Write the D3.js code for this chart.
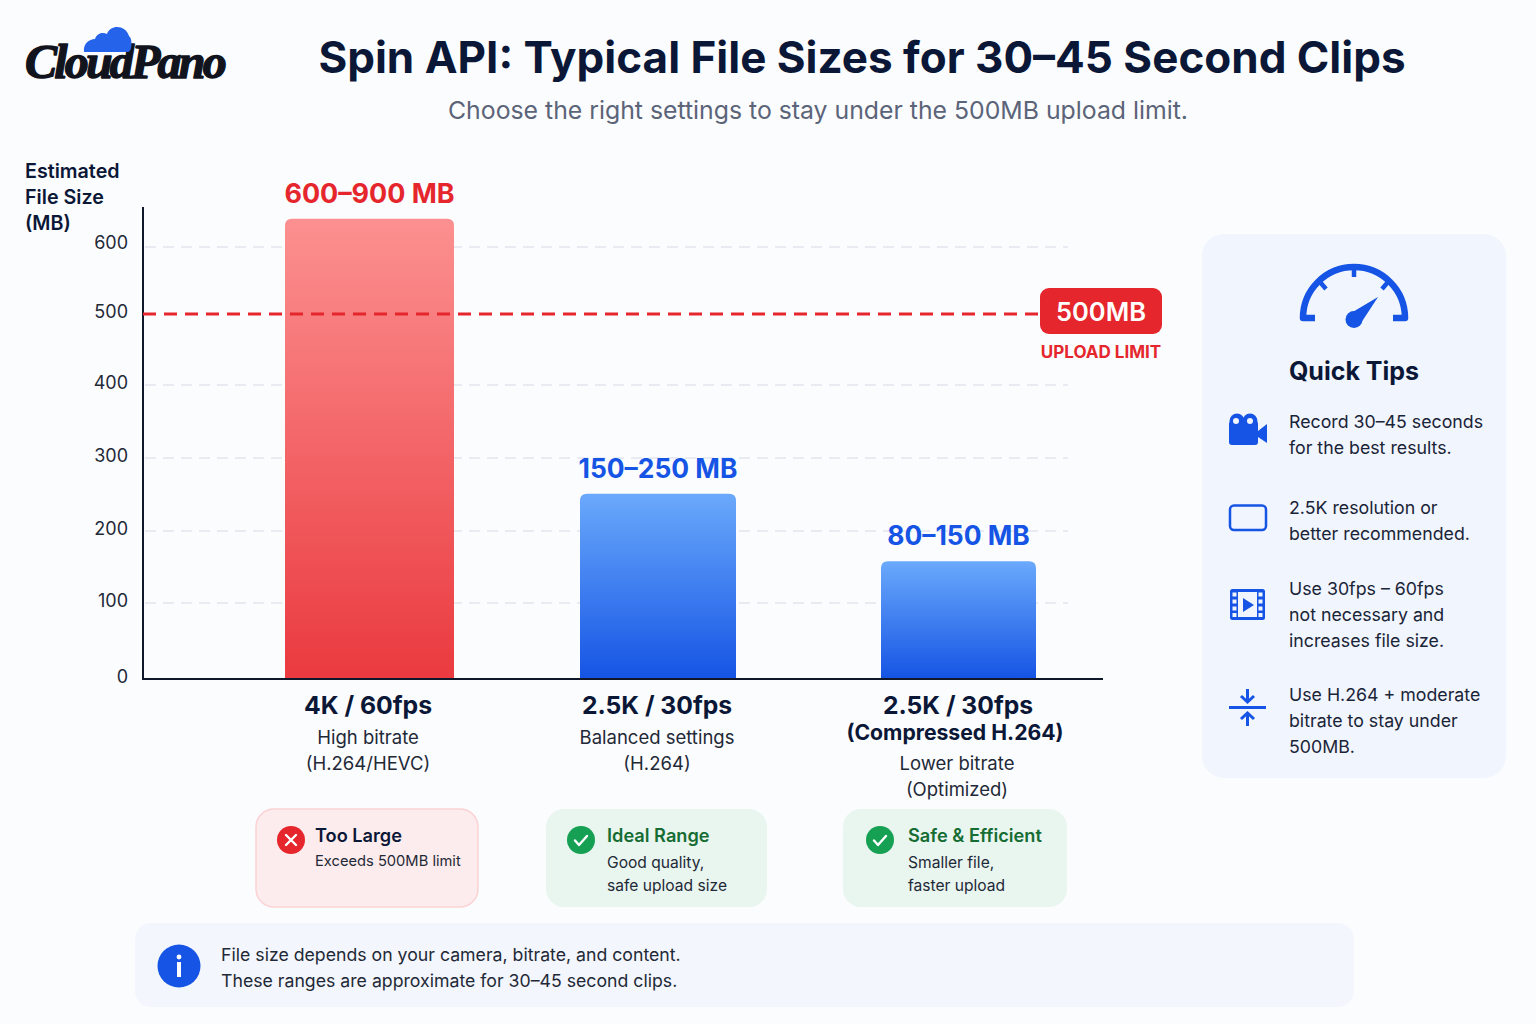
<!DOCTYPE html>
<html>
<head>
<meta charset="utf-8">
<script src="https://cdn.jsdelivr.net/npm/d3@7"></script>
<style>
  html, body { margin: 0; padding: 0; background: #fbfcfe; }
  svg { display: block; }
  text { font-family: Inter, "Noto Sans", sans-serif; }
</style>
</head>
<body>
<div id="chart"></div>
<script>
// data
const categories = ["4K / 60fps", "2.5K / 30fps", "2.5K / 30fps (Compressed)"];
const barValues = [642, 251, 158];
const rangeLabels = ["600–900 MB", "150–250 MB", "80–150 MB"];
const categoryLines = [["4K / 60fps"], ["2.5K / 30fps", "(Compressed H.264)"]];
const yTicks = [0, 100, 200, 300, 400, 500, 600];
const uploadLimit = 500;

const detailLines = [
    ["High bitrate", "(H.264/HEVC)"],
    ["Balanced settings", "(H.264)"],
    ["Lower bitrate", "(Optimized)"]
];
const statusTitles = ["Too Large", "Ideal Range", "Safe & Efficient"];
const statusLines = [
    ["Exceeds 500MB limit"],
    ["Good quality,", "safe upload size"],
    ["Smaller file,", "faster upload"]
];
const tipLines = [
    ["Record 30–45 seconds", "for the best results."],
    ["2.5K resolution or", "better recommended."],
    ["Use 30fps – 60fps", "not necessary and", "increases file size."],
    ["Use H.264 + moderate", "bitrate to stay under", "500MB."]
];
const noteLines = [
    "File size depends on your camera, bitrate, and content.",
    "These ranges are approximate for 30–45 second clips."
];

const RED = "#e5262c", BLUE = "#1554e4", INK = "#0f172a", NAVY = "#0b1736", GREEN = "#166d34";

const svg = d3.select("#chart").append("svg")
    .attr("width", 1536)
    .attr("height", 1024);

const defs = svg.append("defs");
function addGradient(id, top, bottom) {
    const g = defs.append("linearGradient").attr("id", id)
        .attr("x1", 0).attr("x2", 0).attr("y1", 0).attr("y2", 1);
    g.append("stop").attr("offset", "0%").attr("stop-color", top);
    g.append("stop").attr("offset", "100%").attr("stop-color", bottom);
}
addGradient("barRed", "#fc9090", "#ea3a3f");
addGradient("barBlue", "#6aa9fb", "#1554e4");

// multi-line text helper
function lines(parent, arr, x, y0, step, size, weight, fill, anchor) {
    parent.selectAll(null).data(arr).enter().append("text")
        .attr("x", x)
        .attr("y", (d, i) => y0 + i * step)
        .attr("font-size", size)
        .attr("font-weight", weight)
        .attr("fill", fill)
        .attr("text-anchor", anchor || "start")
        .text(d => d);
}

// logo
const logo = svg.append("g");
logo.append("text")
    .attr("x", 25).attr("y", 78)
    .attr("font-size", 48)
    .attr("font-weight", 700)
    .attr("font-style", "italic")
    .attr("letter-spacing", -2.8)
    .attr("stroke", "#11141d")
    .attr("stroke-width", 1.4)
    .attr("stroke-linejoin", "round")
    .attr("fill", "#11141d")
    .style("font-family", "'Liberation Serif', serif")
    .text("CloudPano");
logo.append("path")
    .attr("d", "M84 52 C83 44 89 39 95 39 C97 33 103 32 107 34 C110 25 125 24 129 36 C133 39 132 52 128 52 Z")
    .attr("fill", "#2563eb");

// title
svg.append("text").attr("x", 862).attr("y", 73)
    .attr("text-anchor", "middle").attr("font-size", 44).attr("font-weight", 700)
    .attr("fill", NAVY).text("Spin API: Typical File Sizes for 30–45 Second Clips");
svg.append("text").attr("x", 818).attr("y", 119)
    .attr("text-anchor", "middle").attr("font-size", 24.8).attr("font-weight", 400)
    .attr("fill", "#5b6478").text("Choose the right settings to stay under the 500MB upload limit.");

lines(svg, ["Estimated", "File Size", "(MB)"], 25, 178, 26, 19.7, 600, NAVY);

// scales, the reference axis is very slightly uneven so the range has one stop per tick
const y = d3.scaleLinear()
    .domain(yTicks)
    .range([679, 603, 531, 458, 385, 314, 247]);
const x = d3.scaleOrdinal().domain(categories).range([369.5, 658, 958.5]);
const barWidth = d3.scaleOrdinal().domain(categories).range([169, 156, 155]);

// gridlines
svg.append("g").selectAll("line")
    .data(yTicks.filter(d => d > 0 && d !== uploadLimit))
    .enter().append("line")
    .attr("x1", 145).attr("x2", 1068)
    .attr("y1", d => y(d)).attr("y2", d => y(d))
    .attr("stroke", "#e2e5ee").attr("stroke-width", 1.5)
    .attr("stroke-dasharray", "11 7");

// bars, rounded at the top only
const gBars = svg.append("g");
gBars.selectAll("path")
    .data(categories)
    .enter().append("path")
    .attr("d", (d, i) => {
        const x0 = x(d) - barWidth(d) / 2, x1 = x(d) + barWidth(d) / 2;
        const top = y(barValues[i]), base = y(0), r = 7;
        return `M${x0} ${base}V${top + r}Q${x0} ${top} ${x0 + r} ${top}H${x1 - r}Q${x1} ${top} ${x1} ${top + r}V${base}Z`;
    })
    .attr("fill", (d, i) => i === 0 ? "url(#barRed)" : "url(#barBlue)");

// range labels above the bars
svg.append("g").selectAll("text")
    .data(categories)
    .enter().append("text")
    .attr("x", d => x(d))
    .attr("y", (d, i) => y(barValues[i]) - 16)
    .attr("text-anchor", "middle")
    .attr("font-size", (d, i) => i === 0 ? 26.9 : 26.4)
    .attr("font-weight", 700)
    .attr("fill", (d, i) => i === 0 ? RED : BLUE)
    .text((d, i) => rangeLabels[i]);

// y axis
const yAxis = svg.append("g")
    .attr("transform", "translate(143,0)")
    .call(d3.axisLeft(y).tickValues(yTicks).tickSize(0).tickPadding(15));
yAxis.select(".domain").remove();
yAxis.selectAll("text")
    .attr("font-size", 18).attr("fill", "#1f2937")
    .attr("dy", d => d === 600 ? "0.1em" : "0.2em")
    .style("font-family", "Inter, sans-serif");
svg.append("line").attr("x1", 143).attr("x2", 143).attr("y1", 207).attr("y2", 680)
    .attr("stroke", INK).attr("stroke-width", 2);
svg.append("line").attr("x1", 143).attr("x2", 1103).attr("y1", y(0)).attr("y2", y(0))
    .attr("stroke", INK).attr("stroke-width", 2);

// upload limit line
svg.append("line")
    .attr("x1", 143).attr("x2", 1040)
    .attr("y1", y(uploadLimit)).attr("y2", y(uploadLimit))
    .attr("stroke", RED).attr("stroke-width", 3)
    .attr("stroke-dasharray", "13 8");
svg.append("rect").attr("x", 1040).attr("y", 288).attr("width", 122).attr("height", 46)
    .attr("rx", 9).attr("fill", RED);
svg.append("text").attr("x", 1101).attr("y", 321).attr("text-anchor", "middle")
    .attr("font-size", 25.5).attr("font-weight", 600).attr("fill", "#fff").text(uploadLimit + "MB");
svg.append("text").attr("x", 1101).attr("y", 358).attr("text-anchor", "middle")
    .attr("font-size", 17).attr("font-weight", 700).attr("fill", RED).text("UPLOAD LIMIT");

// category labels under the axis
const labelX = [368, 657, 957];
lines(svg, [categoryLines[0][0]], labelX[0], 714, 0, 24.8, 700, NAVY, "middle");
lines(svg, [categoryLines[1][0]], labelX[1], 714, 0, 24.7, 700, NAVY, "middle");
lines(svg, [categoryLines[1][0]], labelX[2] + 1, 714, 0, 24.7, 700, NAVY, "middle");
lines(svg, [categoryLines[1][1]], labelX[2] - 2, 740, 0, 21.2, 700, NAVY, "middle");
lines(svg, detailLines[0], labelX[0], 744, 25.5, 18.5, 400, "#1f2937", "middle");
lines(svg, detailLines[1], labelX[1], 744, 25.5, 18.5, 400, "#1f2937", "middle");
lines(svg, detailLines[2], labelX[2], 770, 25.5, 18.5, 400, "#1f2937", "middle");

// status cards
const cardLeft = [256, 546, 843], cardWidth = [222, 221, 224];
const iconX = [291, 581, 880], cardTextX = [315, 607, 908];
statusTitles.forEach((title, i) => {
    const g = svg.append("g");
    g.append("rect").attr("x", cardLeft[i]).attr("y", 809)
        .attr("width", cardWidth[i]).attr("height", 98).attr("rx", 18)
        .attr("fill", i === 0 ? "#fdeced" : "#e9f6ef")
        .attr("stroke", i === 0 ? "#fbd2d4" : "none").attr("stroke-width", 1.5);
    g.append("circle").attr("cx", iconX[i]).attr("cy", 840).attr("r", 14)
        .attr("fill", i === 0 ? RED : "#16a053");
    const cx = iconX[i];
    g.append("path")
        .attr("d", i === 0
            ? `M${cx - 5} 835L${cx + 5} 845M${cx + 5} 835L${cx - 5} 845`
            : `M${cx - 6} 840.5L${cx - 2} 845L${cx + 6} 836`)
        .attr("fill", "none").attr("stroke", "#fff").attr("stroke-width", 2.4)
        .attr("stroke-linecap", "round").attr("stroke-linejoin", "round");
    g.append("text").attr("x", cardTextX[i]).attr("y", 842)
        .attr("font-size", 18.2).attr("font-weight", 600)
        .attr("fill", i === 0 ? NAVY : GREEN).text(title);
    lines(g, statusLines[i], cardTextX[i], i === 0 ? 866 : 868, 23, i === 0 ? 14.7 : 15.6, 400, "#1f2937");
});

// footnote
svg.append("rect").attr("x", 135).attr("y", 923).attr("width", 1219).attr("height", 84)
    .attr("rx", 16).attr("fill", "#f3f6fc");
svg.append("circle").attr("cx", 179).attr("cy", 966).attr("r", 21.5).attr("fill", BLUE);
svg.append("circle").attr("cx", 179).attr("cy", 957).attr("r", 2.4).attr("fill", "#fff");
svg.append("rect").attr("x", 177).attr("y", 962).attr("width", 4).attr("height", 15).attr("fill", "#fff");
lines(svg, noteLines, 221, 961, 25.5, 17.7, 400, "#1f2937");

// quick tips panel
svg.append("rect").attr("x", 1202).attr("y", 234).attr("width", 304).attr("height", 544)
    .attr("rx", 22).attr("fill", "#f1f5fd");

const gauge = svg.append("g").attr("transform", "translate(1354,318)");
gauge.append("path")
    .attr("d", "M-39 0H-51A51 51 0 0 1 51 0H39")
    .attr("fill", "none").attr("stroke", BLUE).attr("stroke-width", 6.5).attr("stroke-linejoin", "round");
gauge.append("path")
    .attr("d", "M0 -49V-41M-34 -36L-28 -29M34 -36L28 -29")
    .attr("fill", "none").attr("stroke", BLUE).attr("stroke-width", 4.5);
gauge.append("circle").attr("cx", 0).attr("cy", 1.5).attr("r", 8.5).attr("fill", BLUE);
gauge.append("path").attr("d", "M-3 -5L24 -21L7 5Z").attr("fill", BLUE);

svg.append("text").attr("x", 1354).attr("y", 380).attr("text-anchor", "middle")
    .attr("font-size", 25).attr("font-weight", 700).attr("fill", NAVY).text("Quick Tips");

const tipY = [428, 514, 595, 701];
tipLines.forEach((arr, i) => lines(svg, arr, 1289, tipY[i], 26, 17.75, 400, "#1a2438"));

// tip icons
const cam = svg.append("g").attr("fill", BLUE);
cam.append("rect").attr("x", 1229).attr("y", 421).attr("width", 29).attr("height", 24).attr("rx", 3);
cam.append("circle").attr("cx", 1237).attr("cy", 421).attr("r", 7.5);
cam.append("circle").attr("cx", 1250).attr("cy", 421).attr("r", 7.5);
cam.append("path").attr("d", "M1258 431L1267 424V443L1258 437Z");
cam.append("circle").attr("cx", 1236).attr("cy", 421).attr("r", 3).attr("fill", "#f1f5fd");
cam.append("circle").attr("cx", 1250).attr("cy", 421).attr("r", 3).attr("fill", "#f1f5fd");

svg.append("rect").attr("x", 1230).attr("y", 505.5).attr("width", 36).attr("height", 24.5).attr("rx", 4)
    .attr("fill", "none").attr("stroke", BLUE).attr("stroke-width", 2.5);

const film = svg.append("g");
film.append("rect").attr("x", 1230).attr("y", 589).attr("width", 35).attr("height", 31).attr("rx", 2.5).attr("fill", BLUE);
film.append("rect").attr("x", 1238).attr("y", 592).attr("width", 19).attr("height", 25).attr("fill", "#f1f5fd");
film.selectAll(null).data([1232.5, 1258.5]).enter().selectAll(null)
    .data(d => [592.5, 599.5, 606.5, 613].map(v => [d, v]))
    .enter().append("rect")
    .attr("x", d => d[0]).attr("y", d => d[1]).attr("width", 4).attr("height", 4).attr("fill", "#f1f5fd");
film.append("path").attr("d", "M1243 598L1254 605L1243 612Z").attr("fill", BLUE);

svg.append("path")
    .attr("d", "M1229 707.5H1266M1247.5 689V702M1241 696L1247.5 702L1254 696M1247.5 726V713M1241 719L1247.5 713L1254 719")
    .attr("fill", "none").attr("stroke", BLUE).attr("stroke-width", 3);
</script>
</body>
</html>
